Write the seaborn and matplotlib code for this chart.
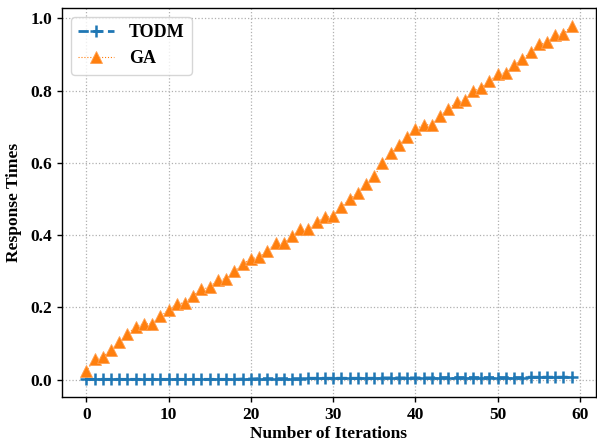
import numpy as np
import pandas as pd
import matplotlib
matplotlib.use("Agg")
import matplotlib.pyplot as plt
import seaborn as sns

iterations = list(range(60))
ga = [0.023, 0.057, 0.063, 0.083, 0.103, 0.127, 0.146, 0.155, 0.155, 0.175,
      0.194, 0.210, 0.213, 0.233, 0.250, 0.256, 0.277, 0.279, 0.300, 0.319,
      0.335, 0.339, 0.357, 0.377, 0.377, 0.397, 0.416, 0.416, 0.436, 0.450,
      0.454, 0.478, 0.500, 0.517, 0.543, 0.563, 0.600, 0.627, 0.650, 0.672,
      0.693, 0.706, 0.706, 0.730, 0.750, 0.768, 0.774, 0.800, 0.808, 0.827,
      0.845, 0.850, 0.870, 0.888, 0.907, 0.928, 0.934, 0.953, 0.958, 0.980]
todm = [0.001, 0.001, 0.001, 0.001, 0.001, 0.001, 0.001, 0.001, 0.001, 0.001,
        0.001, 0.001, 0.001, 0.001, 0.001, 0.001, 0.001, 0.001, 0.001, 0.002,
        0.002, 0.003, 0.003, 0.003, 0.003, 0.003, 0.003, 0.004, 0.004, 0.004,
        0.004, 0.004, 0.004, 0.004, 0.004, 0.004, 0.005, 0.005, 0.005, 0.005,
        0.005, 0.005, 0.005, 0.006, 0.006, 0.006, 0.006, 0.006, 0.006, 0.006,
        0.006, 0.006, 0.006, 0.006, 0.007, 0.007, 0.007, 0.007, 0.007, 0.007]

df = pd.DataFrame({"iter": iterations, "TODM": todm, "GA": ga})

sns.set_style("ticks")
plt.rcParams['font.family'] = ['Liberation Serif', 'DejaVu Serif']
plt.rcParams['font.weight'] = 'bold'
plt.rcParams['text.color'] = 'black'
plt.rcParams['axes.labelcolor'] = 'black'
plt.rcParams['xtick.color'] = 'black'
plt.rcParams['ytick.color'] = 'black'

blue = "#1f77b4"
orange = "#ff7f0e"

fig = plt.figure(figsize=(5.97, 4.43), dpi=100)
ax = fig.add_axes([62/597, 1-397/443, (596-62)/597, (397-8)/443])

sns.lineplot(data=df, x="iter", y="TODM", ax=ax, color=blue,
             linestyle="--", linewidth=2, marker="+", markersize=8,
             markeredgewidth=1.8, markeredgecolor=blue, markerfacecolor=blue,
             label="TODM")
sns.lineplot(data=df, x="iter", y="GA", ax=ax, color=orange,
             linestyle=":", linewidth=0.8, marker="^", markersize=8,
             markeredgewidth=0.6, markeredgecolor="#ffa050",
             markerfacecolor=orange, label="GA")

ax.set_xticks([0, 10, 20, 30, 40, 50, 60])
ax.set_yticks([0.0, 0.2, 0.4, 0.6, 0.8, 1.0])
ax.set_xlabel("Number of Iterations", fontsize=12.5, fontweight='bold',
              labelpad=2, color='black')
ax.set_ylabel("Response Times", fontsize=12.5, fontweight='bold',
              labelpad=6, color='black')
ax.tick_params(axis='both', length=3.5, width=1.0, pad=3.5, color='black',
               labelcolor='black')
for lab in ax.get_xticklabels() + ax.get_yticklabels():
    lab.set_fontweight('bold')
    lab.set_fontsize(12.5)
ax.grid(True, linestyle=":", color="#b0b0b0", linewidth=0.9)
for s in ax.spines.values():
    s.set_visible(True)
    s.set_color("black")
    s.set_linewidth(1.0)
leg = ax.legend(loc="upper left", prop={'weight': 'bold', 'size': 13},
                frameon=True, fancybox=True)
leg.get_frame().set_edgecolor("#cccccc")
for t in leg.get_texts():
    t.set_color('black')

fig.savefig("out.png", dpi=100)
